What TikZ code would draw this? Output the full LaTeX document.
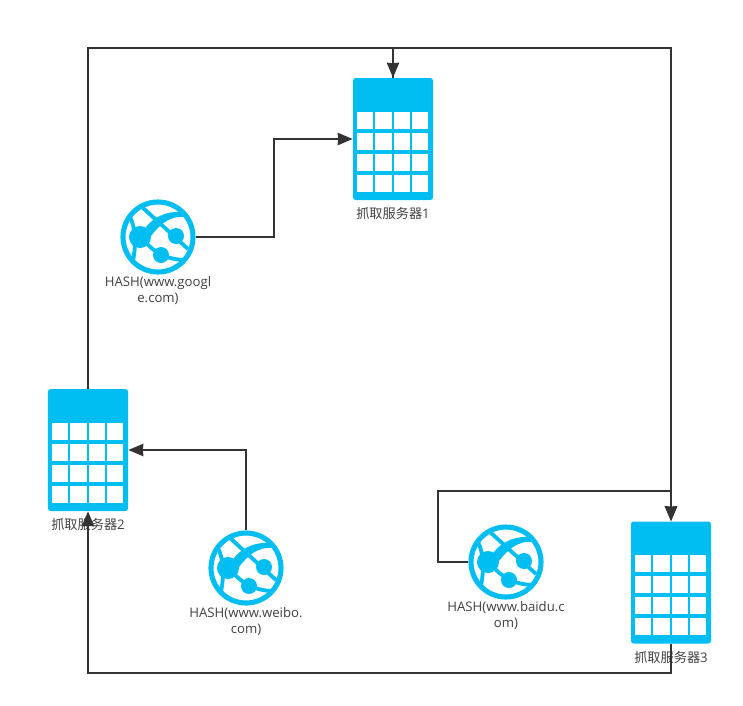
\documentclass[tikz,border=0pt]{standalone}
\usepackage{fontspec}
\setmainfont{Open Sans}
\newfontfamily\cjkfont{Noto Sans CJK SC}
\usepackage{tikz}
\usetikzlibrary{arrows.meta, positioning, calc}

\definecolor{iconblue}{HTML}{00BEF2}
\definecolor{linegray}{HTML}{333333}

\tikzset{
  link/.style={draw=linegray,line width=1.1pt},
  linkarrow/.style={link,-{Stealth[length=8.5pt,width=7pt,inset=0.3pt]}},
  server/.style={rectangle,rounded corners=1.5pt,fill=iconblue,minimum width=1.6cm,minimum height=2.44cm,inner sep=0pt},
  globe/.style={circle,draw=iconblue,line width=2.9pt,fill=white,minimum size=1.4cm,inner sep=0pt},
  caption/.style={font=\fontsize{7.5pt}{9.1pt}\selectfont,text=black!75,align=center,inner sep=0pt},
  band/.style={draw=iconblue,line width=2.2pt},
}

% table cells of a server, (#1) is the server node
\newcommand{\servercells}[1]{
  \foreach \row in {0,...,3}
    \foreach \col in {0,...,3}
      \fill[white] ($(#1.south west)+(0.09+0.365*\col,0.175+0.42*\row)$) rectangle ++(0.325,0.34);
}

% globe bands and dots, (#1) is the globe node
\newcommand{\globeicon}[1]{
  \begin{scope}[shift={(#1)},x=0.02cm,y=-0.02cm]
    \draw[band] (-16,-30) -- (30,12);
    \fill[iconblue] (-18,0) .. controls (-10,-18) and (6,-26) .. (23,-25) -- (27,-20)
      .. controls (12,-22) and (0,-12) .. (-12,6) -- cycle;
    \draw[band] (-18,0) .. controls (-8,10) and (2,22) .. (26,23);
    \draw[band] (-28,-20) .. controls (-22,-8) and (-22,8) .. (-25,24);
    \fill[iconblue] (-18,0) circle (11);
    \fill[iconblue] (18,-1) circle (8);
    \fill[iconblue] (3,18) circle (8);
  \end{scope}
}

\begin{document}
\begin{tikzpicture}
  \useasboundingbox (0,0) rectangle (14.86,-14.1);

  % Servers
  \node[server] (server1) at (7.86,-2.78) {};
  \node[server] (server2) at (1.76,-9.0) {};
  \node[server] (server3) at (13.42,-11.65) {};
  \servercells{server1}
  \servercells{server2}
  \servercells{server3}

  % Hash globes
  \node[globe] (google) at (3.16,-4.74) {};
  \node[globe] (weibo) at (4.92,-11.36) {};
  \node[globe] (baidu) at (10.12,-11.24) {};
  \globeicon{google}
  \globeicon{weibo}
  \globeicon{baidu}

  % Captions
  \node[caption,below=0.14cm of server1] (label1) {{\cjkfont 抓取服务器}1};
  \node[caption,below=0.14cm of server2] (label2) {{\cjkfont 抓取服务器}2};
  \node[caption,below=0.14cm of server3] (label3) {{\cjkfont 抓取服务器}3};
  \node[caption,below=0.03cm of google] (labelg) {HASH(www.googl\\e.com)};
  \node[caption,below=0.03cm of weibo] (labelw) {HASH(www.weibo.\\com)};
  \node[caption,below=0.03cm of baidu] (labelb) {HASH(www.baidu.c\\om)};

  % Corners of the ring
  \coordinate (topleft) at (server2.north |- 0,-0.96);
  \coordinate (topmid) at (server1.north |- 0,-0.96);
  \coordinate (topright) at (server3.north |- 0,-0.96);
  \coordinate (botright) at (server3.south |- 0,-13.46);
  \coordinate (botleft) at (server2.south |- 0,-13.46);

  % Ring of servers
  \draw[linkarrow] (server2.north) -- (topleft) -- (topmid) -- (server1.north);
  \draw[linkarrow] (server1.north) -- (topmid) -- (topright) -- (server3.north);
  \draw[linkarrow] (server3.south) -- (botright) -- (botleft) -- (server2.south);

  % Hash to server
  \coordinate (gbend) at (5.48,-4.74);
  \draw[linkarrow] (google.east) -- (gbend) -- (gbend |- server1.west) -- (server1.west);
  \draw[linkarrow] (weibo.north) -- (weibo.north |- server2.east) -- (server2.east);
  \coordinate (bbend) at (8.76,-11.24);
  \draw[linkarrow] (baidu.west) -- (bbend) -- (8.76,-9.82) -- (server3.north |- 0,-9.82) -- (server3.north);
\end{tikzpicture}
\end{document}
